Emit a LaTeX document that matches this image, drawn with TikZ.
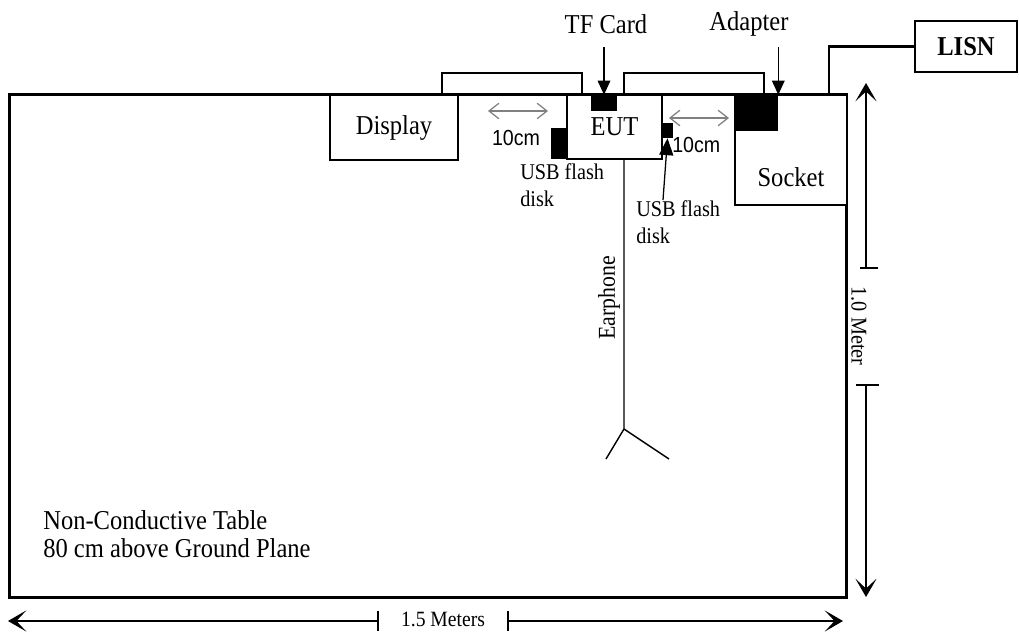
\documentclass[tikz,border=0pt]{standalone}
\usepackage{fontspec}
\setmainfont{Liberation Serif}[FakeStretch=0.9]
\newfontfamily\arialfont{Liberation Sans}[FakeStretch=0.9]
\usetikzlibrary{positioning,arrows.meta}

\tikzset{
  box/.style={draw, line width=1pt, fill=white, inner sep=0pt,
    font=\fontsize{19.4}{22}\selectfont},
  blk/.style={fill=black, inner sep=0pt},
  cable/.style={line width=1.3pt},
  gap/.style={gray, line width=0.9pt, {Straight Barb[length=7pt,width=11pt]}-{Straight Barb[length=7pt,width=11pt]}},
  pointer/.style={line width=0.9pt, -{Triangle[length=10pt,width=9pt]}},
  dim/.style={line width=0.8pt, -{Stealth[length=13pt,width=15pt,inset=7pt]}},
  lbl/.style={inner sep=0pt, font=\fontsize{19.4}{22}\selectfont},
  small/.style={inner sep=0pt, align=left, font=\fontsize{16}{19}\selectfont},
}

\begin{document}
\begin{tikzpicture}[x=0.025cm, y=-0.025cm]
  \useasboundingbox (0,0) rectangle (1019,632);
  % table
  \node (table) [draw, line width=2.1pt, minimum width=20.9cm, minimum height=12.55cm, inner sep=0pt] at (428,346) {};
  % cables between the units
  \coordinate (c1a) at (442,95); \coordinate (c1b) at (582,95);
  \coordinate (c2a) at (624,95); \coordinate (c2b) at (764,95);
  \draw[cable] (c1a) -- ++(0,-22) -| (c1b);
  \draw[cable] (c2a) -- ++(0,-22) -| (c2b);
  % units
  \node (display) [box, minimum width=3.2cm, minimum height=1.625cm] at (394,127.5) {Display};
  \node (eut) [box, minimum width=2.375cm, minimum height=1.6cm] at (614.5,127) {EUT};
  \node (socket) [box, minimum width=2.8cm, minimum height=2.75cm, text depth=0pt] at (791,150) {\raisebox{-0.92cm}{Socket}};
  \node (lisn) [box, minimum width=2.55cm, minimum height=1.275cm] at (966,46.5) {\textbf{LISN}};
  % small parts
  \node (tfcard) [blk, minimum width=0.65cm, minimum height=0.4cm] at (604,103) {};
  \node (usbleft) [blk, minimum width=0.4cm, minimum height=0.775cm] at (559,143.5) {};
  \node (usbright) [blk, minimum width=0.275cm, minimum height=0.375cm] at (667.5,130.5) {};
  \node (adapter) [blk, minimum width=1.075cm, minimum height=0.9cm] at (756.5,113) {};
  % power line to LISN
  \coordinate (plug) at (829,95);
  \draw[line width=2.1pt] (plug) |- (lisn.west);
  % labels with pointers
  \node (tflabel) [lbl] at (606,24) {TF Card};
  \node (adlabel) [lbl] at (749,24) {Adapter};
  \draw[pointer] (tfcard.north |- 0,47) -- (tfcard.north);
  \draw[pointer] (adapter.north east |- 0,47) -- (adapter.north east);
  \node (usblabelL) [small, anchor=west] at (520,185) {USB flash\\disk};
  \node (usblabelR) [small, anchor=west] at (636,222) {USB flash\\disk};
  \draw[line width=0.9pt, -{Triangle[length=12pt,width=10pt]}] (663,200) -- (usbright.south);
  % 10cm spacings
  \coordinate (g1a) at (488,111); \coordinate (g1b) at (548,111);
  \coordinate (g2a) at (669,118); \coordinate (g2b) at (729,118);
  \draw[gap] (g1a) -- (g1b);
  \draw[gap] (g2a) -- (g2b);
  \node (cm1) [inner sep=0pt, font=\arialfont\fontsize{15.5}{18}\selectfont] at (516,138) {10cm};
  \node (cm2) [inner sep=0pt, font=\arialfont\fontsize{15.5}{18}\selectfont, anchor=west] at (672,145) {10cm};
  % earphone
  \coordinate (split) at (624,429);
  \draw[line width=1pt] (eut.south -| split) -- (split) -- (606,459);
  \draw[line width=1pt] (split) -- (669,459);
  \node (earlabel) [lbl, rotate=90, font=\fontsize{17.2}{20}\selectfont] at (609,298) {Earphone};
  % table text
  \node (tabletext) [inner sep=0pt, anchor=north west, align=left, font=\fontsize{19.4}{20}\selectfont] at (43,510) {Non-Conductive Table\\80 cm above Ground Plane};
  % dimensions
  \coordinate (vtop) at (866,83); \coordinate (vt1) at (866,268);
  \coordinate (vt2) at (866,385); \coordinate (vbot) at (866,597);
  \draw[dim] (vt1) -- (vtop);
  \draw[dim] (vt2) -- (vbot);
  \draw[line width=0.8pt] (860,268) -- (878,268) (856,385) -- (879,385);
  \node (vlabel) [inner sep=0pt, rotate=-90, font=\fontsize{16}{18}\selectfont] at (859,326) {1.0 Meter};
  \coordinate (hleft) at (8,621); \coordinate (ht1) at (378,621);
  \coordinate (ht2) at (508,621); \coordinate (hright) at (843,621);
  \draw[dim] (ht1) -- (hleft);
  \draw[dim] (ht2) -- (hright);
  \draw[line width=0.8pt] (378,611) -- (378,631) (508,611) -- (508,631);
  \node (hlabel) [inner sep=0pt, font=\fontsize{15.5}{17}\selectfont] at (443,619) {1.5 Meters};
\end{tikzpicture}
\end{document}
